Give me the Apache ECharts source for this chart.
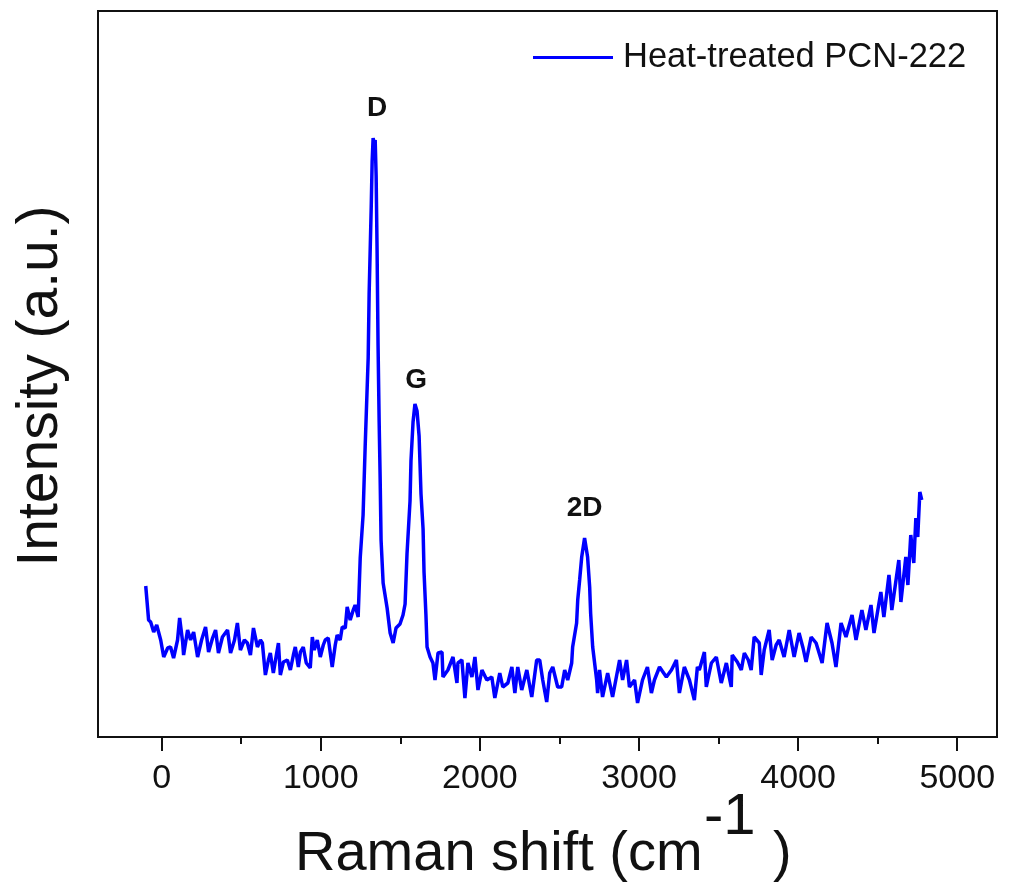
<!DOCTYPE html>
<html>
<head>
<meta charset="utf-8">
<title>Raman</title>
<script src="https://cdn.jsdelivr.net/npm/echarts@6/dist/echarts.min.js"></script>
<style>
  html, body { margin: 0; padding: 0; background: #fff; }
  #chart { width: 1009px; height: 884px; }
</style>
</head>
<body>
<div id="chart"></div>
<script>
// Raman shift (cm-1)
var ramanShift = [
  -100, -82, -69, -50, -31, -6, 13, 38, 56, 75, 100, 113, 132, 138, 163, 182, 201, 226, 251, 276,
  295, 320, 339, 357, 382, 414, 433, 458, 476, 495, 520, 539, 558, 577, 602, 621, 633, 652, 671, 683,
  702, 721, 734, 746, 765, 790, 809, 828, 840, 859, 872, 890, 909, 934, 947, 959, 978, 997, 1016, 1028,
  1047, 1072, 1091, 1103, 1122, 1135, 1154, 1166, 1185, 1204, 1216, 1235, 1248, 1266, 1279, 1298, 1304, 1317, 1323, 1329,
  1335, 1342, 1348, 1354, 1360, 1367, 1373, 1379, 1392, 1417, 1436, 1455, 1473, 1498, 1517, 1530, 1542, 1561, 1567, 1580,
  1592, 1605, 1618, 1630, 1643, 1649, 1661, 1668, 1687, 1705, 1718, 1737, 1762, 1768, 1799, 1831, 1856, 1862, 1887, 1906,
  1925, 1950, 1969, 1988, 2013, 2044, 2075, 2094, 2125, 2144, 2176, 2201, 2220, 2238, 2263, 2295, 2326, 2357, 2376, 2395,
  2420, 2439, 2458, 2489, 2514, 2533, 2552, 2577, 2583, 2608, 2615, 2627, 2640, 2658, 2677, 2690, 2696, 2709, 2734, 2740,
  2752, 2771, 2803, 2834, 2878, 2897, 2922, 2940, 2972, 2991, 3022, 3053, 3078, 3097, 3129, 3172, 3204, 3235, 3254, 3285,
  3317, 3348, 3367, 3379, 3411, 3423, 3455, 3486, 3517, 3549, 3580, 3586, 3618, 3643, 3662, 3687, 3705, 3724, 3756, 3768,
  3787, 3818, 3837, 3862, 3881, 3912, 3944, 3975, 4006, 4031, 4050, 4082, 4113, 4151, 4182, 4213, 4238, 4270, 4301, 4339,
  4364, 4401, 4426, 4458, 4477, 4520, 4539, 4571, 4589, 4633, 4646, 4677, 4690, 4708, 4727, 4740, 4752, 4765, 4777
];
// intensity (a.u.)
var intensity = [
  151, 117, 115, 105, 112, 97, 80, 89, 90, 79, 97, 119, 95, 82, 107, 97, 105, 80, 97, 110,
  85, 99, 107, 84, 100, 107, 84, 97, 114, 87, 97, 94, 82, 109, 90, 97, 94, 62, 77, 84,
  64, 82, 94, 62, 75, 77, 67, 82, 90, 70, 85, 90, 74, 69, 100, 87, 97, 80, 92, 97,
  99, 70, 92, 102, 97, 110, 109, 130, 117, 127, 132, 120, 179, 222, 290, 379, 443, 529, 576, 599,
  592, 597, 561, 486, 393, 315, 261, 197, 154, 129, 104, 94, 109, 113, 122, 133, 183, 236, 276, 315,
  333, 326, 301, 243, 208, 165, 122, 90, 80, 74, 57, 84, 85, 60, 67, 80, 54, 74, 77, 39,
  74, 60, 80, 47, 67, 57, 60, 39, 64, 50, 54, 70, 44, 70, 47, 67, 40, 77, 77, 57,
  35, 64, 70, 50, 50, 67, 57, 74, 90, 114, 137, 157, 180, 199, 180, 150, 124, 90, 57, 44,
  67, 40, 64, 40, 77, 57, 77, 50, 57, 34, 57, 70, 44, 57, 70, 60, 67, 77, 44, 70,
  57, 37, 70, 67, 85, 50, 74, 80, 54, 74, 50, 82, 75, 67, 84, 77, 67, 100, 94, 62,
  87, 107, 77, 92, 97, 80, 107, 80, 104, 89, 75, 100, 94, 74, 114, 94, 70, 114, 100, 122,
  97, 127, 107, 132, 104, 145, 120, 162, 127, 177, 135, 180, 152, 202, 174, 219, 200, 245, 237
];
var majorTicks = [0, 1000, 2000, 3000, 4000, 5000];
var minorTicks = [500, 1500, 2500, 3500, 4500];
// peak names and where they sit
var peakNames = ['D', 'G', '2D'];
var peakPos = [[1354, 629], [1599, 357], [2658, 229]];

var FONT = "'Liberation Sans', Arial, sans-serif";

var lineData = [];
for (var i = 0; i < ramanShift.length; i++) {
  lineData.push([ramanShift[i], intensity[i]]);
}
var peakMarks = peakNames.map(function (n, i) {
  return { name: n, coord: peakPos[i], value: n };
});

var chart = echarts.init(document.getElementById('chart'));
chart.setOption({
  backgroundColor: '#fff',
  animation: false,
  textStyle: { fontFamily: FONT },
  grid: {
    left: 98, right: 12, top: 11, bottom: 147,
    show: true, borderColor: '#111', borderWidth: 2
  },
  legend: {
    left: 533, top: 40, padding: 0,
    itemWidth: 80, itemHeight: 3,
    icon: 'rect',
    data: ['Heat-treated PCN-222'],
    textStyle: { fontSize: 34.5, color: '#111', fontFamily: FONT, padding: [0, 0, 0, 5] }
  },
  xAxis: [{
    type: 'value', min: -400, max: 5250,
    axisLine: { show: true, onZero: false, lineStyle: { color: '#111', width: 2 } },
    axisTick: { show: true, inside: false, length: 14, customValues: majorTicks, lineStyle: { color: '#111', width: 2 } },
    axisLabel: {
      show: true, customValues: majorTicks, fontSize: 34, color: '#111', margin: 25, fontFamily: FONT,
      formatter: function (v) { return String(v); }
    },
    splitLine: { show: false }
  }, {
    // minor ticks only
    type: 'value', min: -400, max: 5250, position: 'bottom', offset: 0,
    axisLine: { show: false },
    axisTick: { show: true, inside: false, length: 7, customValues: minorTicks, lineStyle: { color: '#111', width: 2 } },
    axisLabel: { show: false },
    splitLine: { show: false }
  }],
  yAxis: {
    type: 'value', min: 0, max: 726,
    axisLine: { show: true, onZero: false, lineStyle: { color: '#111', width: 2 } },
    axisTick: { show: false },
    axisLabel: { show: false },
    splitLine: { show: false }
  },
  graphic: [
    { type: 'text', left: 295, top: 827, style: { text: 'Raman shift (cm', fontSize: 56, fill: '#111', fontFamily: FONT } },
    { type: 'text', left: 704, top: 789, style: { text: '-1', fontSize: 58, fill: '#111', fontFamily: FONT } },
    { type: 'text', left: 773, top: 827, style: { text: ')', fontSize: 56, fill: '#111', fontFamily: FONT } },
    {
      type: 'text', x: 41, y: 386, rotation: Math.PI / 2,
      style: { text: 'Intensity (a.u.)', fontSize: 57, fill: '#111', fontFamily: FONT, align: 'center', verticalAlign: 'middle' }
    }
  ],
  series: [{
    name: 'Heat-treated PCN-222',
    type: 'line',
    xAxisIndex: 0,
    data: lineData,
    symbol: 'none',
    lineStyle: { color: '#0000ff', width: 3.5 },
    itemStyle: { color: '#0000ff' },
    markPoint: {
      symbol: 'circle', symbolSize: 0,
      label: {
        show: true, formatter: '{b}', fontSize: 28, fontWeight: 'bold', color: '#111', fontFamily: FONT
      },
      data: peakMarks
    }
  }]
});
</script>
</body>
</html>
